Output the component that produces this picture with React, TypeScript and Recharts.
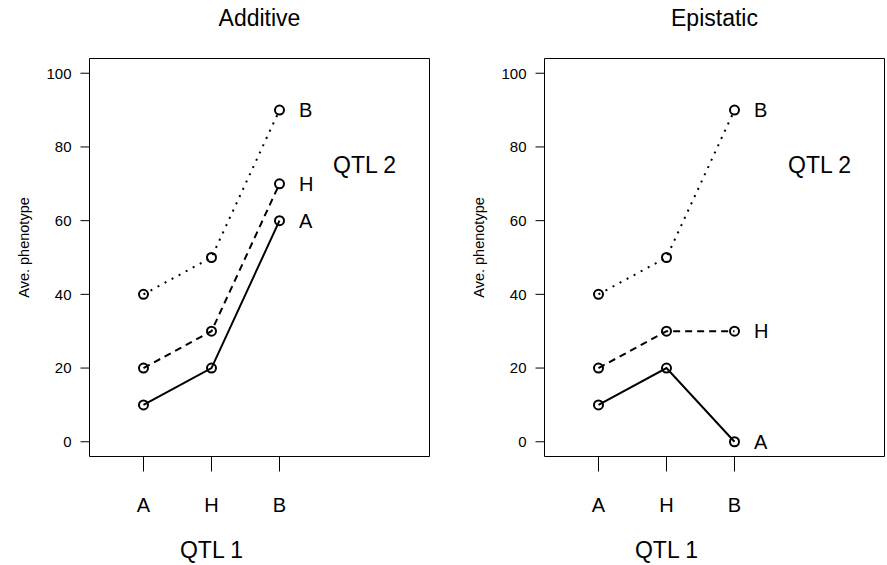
import { LabelList, Line, LineChart, ReferenceArea, XAxis, YAxis } from 'recharts'

// genotype classes at QTL 1 (x axis) and QTL 2 (one line each)
const qtl1Genotypes = ['A', 'H', 'B']
const qtl2Genotypes = ['A', 'H', 'B']

// average phenotype per QTL 1 genotype, one array per QTL 2 genotype
const additiveA = [10, 20, 60]
const additiveH = [20, 30, 70]
const additiveB = [40, 50, 90]

const epistaticA = [10, 20, 0]
const epistaticH = [20, 30, 30]
const epistaticB = [40, 50, 90]

const yTicks = [0, 20, 40, 60, 80, 100]

const X_DOMAIN: [number, number] = [0.206, 5.206]
const Y_DOMAIN: [number, number] = [-4, 104]

const FONT = '"Liberation Sans", Arial, Helvetica, sans-serif'
const W = 432
const H = 565

const lineStyles: Record<string, string | undefined> = {
	A: undefined,
	H: '7 5',
	B: '2 6',
}

const buildRows = (a: number[], h: number[], b: number[]) =>
	qtl1Genotypes.map((g, i) => ({ x: i + 1, genotype: g, A: a[i], H: h[i], B: b[i] }))

const endLabel = (name: string) => (props: any) => {
	if (props.index !== qtl1Genotypes.length - 1) return null
	return (
		<text
			x={Number(props.x) + 19.5}
			y={Number(props.y) + 7}
			fontSize={20}
			fontFamily={FONT}
			fill="#000"
		>
			{name}
		</text>
	)
}

interface PanelProps {
	title: string
	rows: ReturnType<typeof buildRows>
	left: number
}

const Panel = ({ title, rows, left }: PanelProps) => {
	return (
		<div style={{ position: 'absolute', left, top: 0, width: W, height: H }}>
			<LineChart
				width={W}
				height={H}
				data={rows}
				margin={{ top: 58.5, right: 2.5, bottom: 48.5, left: 29.5 }}
			>
				<XAxis
					type="number"
					dataKey="x"
					domain={X_DOMAIN}
					allowDataOverflow
					ticks={[1, 2, 3]}
					interval={0}
					tickFormatter={(v: number) => qtl1Genotypes[v - 1]}
					axisLine={false}
					tickLine={{ stroke: '#000' }}
					tickSize={15}
					tickMargin={26}
					height={60}
					tick={{ fill: '#000', fontSize: 20, fontFamily: FONT }}
				/>
				<YAxis
					type="number"
					domain={Y_DOMAIN}
					allowDataOverflow
					ticks={yTicks}
					interval={0}
					axisLine={false}
					tickLine={{ stroke: '#000' }}
					tickSize={9}
					tickMargin={9}
					width={60}
					tick={{ fill: '#000', fontSize: 15, fontFamily: FONT }}
				/>
				<ReferenceArea
					x1={X_DOMAIN[0]}
					x2={X_DOMAIN[1]}
					y1={Y_DOMAIN[0]}
					y2={Y_DOMAIN[1]}
					fill="none"
					stroke="#000"
					strokeWidth={1}
					ifOverflow="visible"
				/>
				{qtl2Genotypes.map((g) => (
					<Line
						key={g}
						type="linear"
						dataKey={g}
						stroke="#000"
						strokeWidth={2}
						strokeDasharray={lineStyles[g]}
						dot={{ r: 4.5, fill: 'none', stroke: '#000', strokeWidth: 2, strokeDasharray: undefined }}
						activeDot={false}
						isAnimationActive={false}
					>
						<LabelList dataKey={g} content={endLabel(g)} />
					</Line>
				))}
			</LineChart>
			<svg
				width={W}
				height={H}
				style={{ position: 'absolute', left: 0, top: 0, pointerEvents: 'none' }}
				fontFamily={FONT}
				fill="#000"
			>
				<text x={259.5} y={26} fontSize={23} textAnchor="middle">
					{title}
				</text>
				<text x={211.5} y={558} fontSize={23} textAnchor="middle">
					QTL 1
				</text>
				<text x={333} y={173} fontSize={23}>
					QTL 2
				</text>
				<text transform="translate(29, 247.5) rotate(-90)" fontSize={14.5} textAnchor="middle">
					Ave. phenotype
				</text>
			</svg>
		</div>
	)
}

export default function App() {
	return (
		<div
			style={{
				position: 'absolute',
				left: 0,
				top: 0,
				width: 887,
				height: 565,
				overflow: 'hidden',
				background: '#fff',
			}}
		>
			<Panel title="Additive" rows={buildRows(additiveA, additiveH, additiveB)} left={0} />
			<Panel title="Epistatic" rows={buildRows(epistaticA, epistaticH, epistaticB)} left={455} />
		</div>
	)
}
